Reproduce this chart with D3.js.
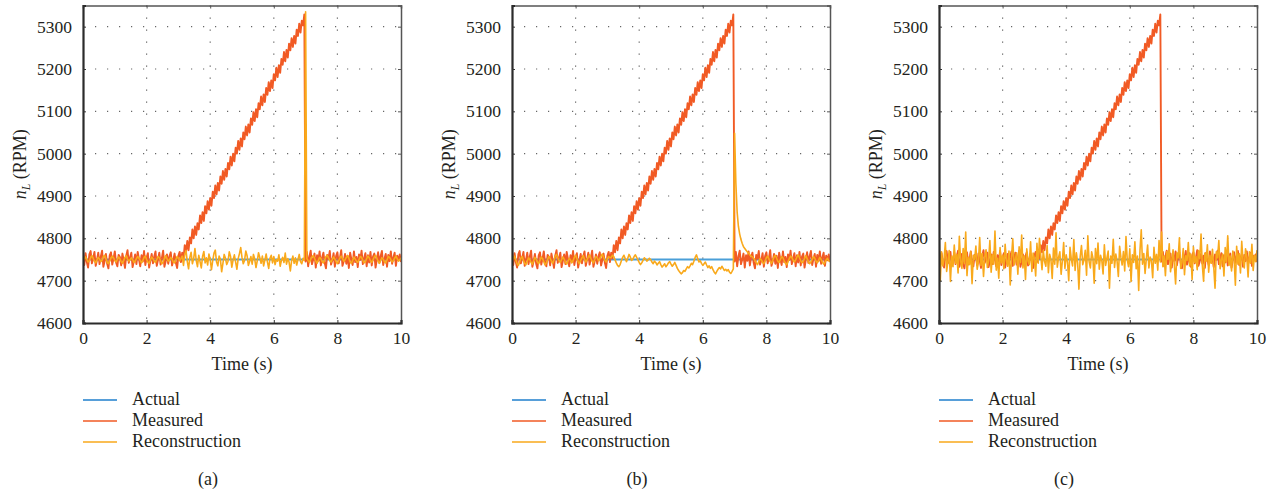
<!DOCTYPE html>
<html>
<head>
<meta charset="utf-8">
<script src="https://cdn.jsdelivr.net/npm/d3@7"></script>
<style>
  body { margin: 0; background: #fff; }
  text { font-family: "Liberation Serif", "Times New Roman", serif; fill: #231f20; }
</style>
</head>
<body>
<script>
// sampling step of the recorded signals (s)
var dt = 0.04;

var xTicks = [0, 2, 4, 6, 8, 10];
var yTicks = [4600, 4700, 4800, 4900, 5000, 5100, 5200, 5300];
var seriesNames = ["Actual", "Measured", "Reconstruction"];
var panelLabels = ["(a)", "(b)", "(c)"];

// actual speed (RPM), constant over the run
var actualTime = [0, 10];
var actual = [4750, 4750];

// measured speed (RPM), same record in all three panels
var measured = [
  4758, 4737, 4765, 4744, 4731, 4762, 4770, 4741, 4753, 4768, 4735, 4749, 4766, 4739, 4757, 4771, 4733, 4746, 4763, 4740,
  4729, 4760, 4767, 4738, 4752, 4769, 4743, 4734, 4761, 4756, 4736, 4764, 4748, 4730, 4759, 4772, 4742, 4755, 4766, 4732,
  4747, 4762, 4739, 4768, 4751, 4734, 4760, 4745, 4770, 4737, 4754, 4765, 4731, 4748, 4763, 4741, 4757, 4769, 4735, 4750,
  4766, 4738, 4753, 4771, 4733, 4746, 4762, 4740, 4758, 4767, 4736, 4749, 4764, 4742, 4730, 4759, 4768, 4744,
  4766, 4752, 4784, 4767, 4794, 4772, 4802, 4788, 4821, 4800, 4828, 4808, 4836, 4821, 4854, 4836, 4862, 4841, 4876, 4859,
  4888, 4868, 4895, 4877, 4910, 4895, 4925, 4904, 4931, 4913, 4946, 4929, 4959, 4938, 4964, 4946, 4978, 4963, 4993, 4972,
  5000, 4982, 5014, 5000, 5030, 5009, 5036, 5017, 5050, 5034, 5064, 5043, 5069, 5050, 5083, 5068, 5098, 5077, 5105, 5086,
  5119, 5105, 5135, 5114, 5140, 5122, 5155, 5139, 5169, 5148, 5173, 5155, 5188, 5173, 5203, 5181, 5209, 5191, 5224, 5210,
  5240, 5218, 5245, 5227, 5260, 5244, 5273, 5252, 5278, 5260, 5293, 5278, 5307, 5286, 5314, 5303, 5329,
  4745, 4768, 4734, 4757, 4771, 4739, 4750, 4764, 4731, 4760, 4747, 4769, 4736, 4755, 4766, 4742, 4729, 4761, 4752, 4770,
  4738, 4748, 4765, 4733, 4758, 4767, 4741, 4754, 4772, 4735, 4746, 4763, 4740, 4759, 4730, 4766, 4751, 4737, 4769, 4744,
  4756, 4732, 4762, 4749, 4771, 4739, 4753, 4765, 4734, 4760, 4743, 4768, 4736, 4757, 4764, 4731, 4750, 4767, 4742, 4758,
  4770, 4737, 4752, 4763, 4733, 4761, 4746, 4769, 4740, 4755, 4766, 4735, 4759, 4748, 4762, 4744
];

// reconstruction, panel (a)
var reconA = [
  4748, 4752, 4756, 4750, 4744, 4747, 4754, 4759, 4753, 4746, 4742, 4749, 4755, 4751, 4745, 4748, 4757, 4760, 4752, 4743,
  4740, 4746, 4753, 4758, 4754, 4747, 4744, 4750, 4756, 4752, 4745, 4741, 4748, 4755, 4759, 4751, 4746, 4749, 4754, 4750,
  4743, 4746, 4752, 4757, 4753, 4748, 4742, 4747, 4755, 4758, 4750, 4744, 4741, 4749, 4756, 4752, 4746, 4743, 4750, 4757,
  4754, 4747, 4740, 4745, 4753, 4759, 4752, 4746, 4749, 4755, 4751, 4744, 4742, 4750, 4757, 4753, 4747, 4752,
  4758, 4736, 4762, 4771, 4745, 4728, 4755, 4767, 4740, 4752, 4776, 4748, 4733, 4760, 4745, 4730, 4757, 4769, 4742, 4754,
  4737, 4763, 4750, 4726, 4748, 4765, 4772, 4744, 4735, 4758, 4751, 4721, 4741, 4762, 4753, 4738, 4746, 4768, 4757, 4732,
  4749, 4761, 4744, 4727, 4752, 4764, 4778, 4755, 4740, 4748, 4770, 4759, 4736, 4745, 4757, 4739, 4762, 4751, 4731, 4747,
  4766, 4754, 4741, 4758, 4735, 4749, 4763, 4744, 4729, 4753, 4760, 4742, 4757, 4738, 4750, 4746, 4761, 4734, 4748, 4755,
  4743, 4765, 4739, 4752, 4744, 4723, 4747, 4758, 4741, 4754, 4737, 4750, 4762, 4745, 4740, 4753, 4748,
  5335,
  4752, 4747, 4743, 4750, 4756, 4759, 4753, 4746, 4741, 4748, 4755, 4752, 4745, 4742, 4749, 4757, 4760, 4754, 4747, 4744,
  4750, 4756, 4751, 4745, 4740, 4747, 4754, 4758, 4752, 4746, 4749, 4755, 4759, 4753, 4744, 4741, 4748, 4756, 4751, 4746,
  4743, 4750, 4757, 4755, 4748, 4742, 4745, 4752, 4758, 4754, 4747, 4743, 4749, 4756, 4760, 4753, 4746, 4741, 4748, 4754,
  4751, 4745, 4742, 4749, 4757, 4755, 4750, 4744, 4747, 4753, 4758, 4752, 4746, 4749, 4754
];

// reconstruction, panel (b)
var reconB = [
  4745, 4752, 4758, 4749, 4740, 4736, 4744, 4753, 4757, 4748, 4741, 4738, 4746, 4754, 4750, 4743, 4739, 4747, 4755, 4751,
  4744, 4740, 4748, 4756, 4752, 4745, 4737, 4742, 4750, 4757, 4753, 4746, 4741, 4749, 4758, 4762, 4754, 4747, 4743, 4750,
  4756, 4751, 4744, 4739, 4746, 4753, 4749, 4742, 4747, 4755, 4760, 4752, 4745, 4740, 4748, 4754, 4759, 4751, 4744, 4749,
  4756, 4761, 4753, 4746, 4742, 4750, 4757, 4754, 4747, 4751, 4758, 4763, 4755, 4748, 4744, 4752, 4757, 4754,
  4755, 4760, 4757, 4749, 4742, 4736, 4733, 4738, 4747, 4755, 4760, 4752, 4745, 4753, 4762, 4756, 4748, 4751, 4757, 4761,
  4755, 4749, 4743, 4738, 4742, 4748, 4754, 4751, 4746, 4749, 4753, 4750, 4744, 4740, 4746, 4743, 4737, 4741, 4745, 4738,
  4732, 4736, 4740, 4733, 4737, 4742, 4745, 4739, 4734, 4738, 4743, 4736, 4729, 4724, 4720, 4716, 4719, 4724, 4722, 4728,
  4733, 4730, 4735, 4741, 4738, 4746, 4755, 4761, 4752, 4744, 4747, 4741, 4736, 4740, 4744, 4737, 4731, 4735, 4729, 4733,
  4726, 4720, 4716, 4722, 4727, 4731, 4728, 4734, 4729, 4724, 4727, 4723, 4726, 4720, 4717, 4722, 4728,
  5048, 4930, 4862, 4828, 4810, 4797, 4788, 4780, 4776, 4772, 4768, 4765, 4761, 4758, 4756, 4753,
  4748, 4742, 4738, 4745, 4752, 4749, 4743, 4740, 4747, 4754, 4758, 4751, 4745, 4741, 4748, 4756, 4760, 4753, 4746, 4743,
  4750, 4757, 4754, 4747, 4741, 4738, 4745, 4752, 4758, 4755, 4748, 4744, 4749, 4756, 4761, 4754, 4747, 4742, 4746, 4753,
  4759, 4752, 4745, 4740, 4744, 4751, 4757, 4753, 4746, 4742, 4748, 4755, 4750, 4744, 4739, 4743, 4749, 4753, 4747, 4745
];

// reconstruction, panel (c)
var reconC = [
  4810, 4700, 4768, 4735, 4752, 4790, 4722, 4745, 4771, 4698, 4758, 4733, 4784, 4741, 4762, 4718, 4805, 4747, 4729, 4776,
  4740, 4815, 4712, 4755, 4738, 4769, 4693, 4760, 4750, 4782, 4727, 4744, 4802, 4736, 4764, 4710, 4757, 4773, 4731, 4748,
  4795, 4720, 4761, 4739, 4817, 4725, 4753, 4706, 4778, 4742, 4760, 4728, 4786, 4747, 4734, 4770, 4690, 4756, 4799, 4737,
  4749, 4766, 4715, 4780, 4743, 4808, 4730, 4758, 4703, 4775, 4746, 4738, 4792, 4722, 4765, 4752, 4711, 4788, 4741, 4800,
  4759, 4726, 4771, 4745, 4734, 4783, 4719, 4762, 4750, 4705, 4777, 4739, 4813, 4732, 4755, 4768, 4715, 4747, 4790, 4729,
  4761, 4744, 4700, 4779, 4751, 4735, 4797, 4724, 4766, 4742, 4680, 4757, 4783, 4738, 4749, 4772, 4713, 4806, 4745, 4730,
  4768, 4754, 4694, 4776, 4740, 4789, 4727, 4760, 4748, 4716, 4785, 4736, 4753, 4770, 4682, 4758, 4741, 4798, 4731, 4763,
  4746, 4710, 4781, 4755, 4737, 4769, 4723, 4804, 4749, 4733, 4775, 4698, 4761, 4743, 4792, 4728, 4758, 4677, 4771, 4820,
  4739, 4764, 4717, 4752, 4784, 4730, 4756, 4747, 4707, 4779, 4741, 4762, 4725, 4795, 4744, 4815, 4733, 4758, 4712, 4769,
  4750, 4787, 4721, 4745, 4773, 4738, 4692, 4766, 4754, 4801, 4729, 4742, 4776, 4714, 4759, 4748, 4790, 4735, 4763, 4703,
  4780, 4743, 4757, 4726, 4771, 4752, 4810, 4737, 4699, 4765, 4746, 4785, 4720, 4760, 4741, 4774, 4732, 4682, 4768, 4754,
  4795, 4728, 4749, 4763, 4711, 4778, 4744, 4806, 4736, 4758, 4723, 4770, 4752, 4689, 4781, 4739, 4764, 4718, 4793, 4747,
  4730, 4775, 4755, 4709, 4768, 4741, 4786, 4724, 4760, 4745, 4772
];

var colors = ["#1f7fcc", "#f15a24", "#f9a91b"];

var w = 1275,
    h = 493;

var svg = d3.select("body").append("svg")
    .attr("width", w)
    .attr("height", h);

var panels = [
  {left: 83, recon: reconA},
  {left: 512, recon: reconB},
  {left: 939, recon: reconC}
];
var pw = 318,
    plotTop = 5.5,
    plotBottom = 323;

panels.forEach(function(p, k) {
  var g = svg.append("g");

  var x = d3.scaleLinear().domain([0, 10]).range([p.left, p.left + pw]);
  var y = d3.scaleLinear().domain([4600, 5350]).range([plotBottom, plotTop]);

  // dotted grid
  g.append("g").selectAll("line")
      .data(xTicks.slice(1, -1))
    .enter().append("line")
      .attr("x1", function(d) { return x(d); })
      .attr("x2", function(d) { return x(d); })
      .attr("y1", plotTop)
      .attr("y2", plotBottom)
      .attr("stroke", "#666")
      .attr("stroke-width", 1.2)
      .attr("stroke-dasharray", "1.2,10.8");

  g.append("g").selectAll("line")
      .data(yTicks.slice(1))
    .enter().append("line")
      .attr("x1", p.left)
      .attr("x2", p.left + pw)
      .attr("y1", function(d) { return y(d); })
      .attr("y2", function(d) { return y(d); })
      .attr("stroke", "#666")
      .attr("stroke-width", 1.2)
      .attr("stroke-dasharray", "1.2,10.8");

  // signals
  var clipId = "clip" + k;
  g.append("clipPath").attr("id", clipId)
    .append("rect")
      .attr("x", p.left).attr("y", plotTop)
      .attr("width", pw).attr("height", plotBottom - plotTop);

  var line = d3.line()
      .x(function(d, i) { return x(i * dt); })
      .y(function(d) { return y(d); });

  var actualLine = d3.line()
      .x(function(d, i) { return x(actualTime[i]); })
      .y(function(d) { return y(d); });

  var plot = g.append("g").attr("clip-path", "url(#" + clipId + ")");

  plot.append("path")
      .attr("d", actualLine(actual))
      .attr("fill", "none")
      .attr("stroke", "#4a9fd8")
      .attr("stroke-width", 2);

  plot.append("path")
      .attr("d", line(measured))
      .attr("fill", "none")
      .attr("stroke", colors[1])
      .attr("stroke-width", 1.9)
      .attr("stroke-linejoin", "round");

  plot.append("path")
      .attr("d", line(p.recon))
      .attr("fill", "none")
      .attr("stroke", colors[2])
      .attr("stroke-width", 1.6)
      .attr("stroke-linejoin", "round");

  // box: top and right sides with inward ticks
  g.append("g")
      .attr("transform", "translate(0," + plotTop + ")")
      .call(d3.axisTop(x).tickValues(xTicks).tickSize(-3).tickFormat(""))
      .call(function(s) {
        s.select(".domain").attr("stroke", "#555").attr("stroke-width", 1.5);
        s.selectAll(".tick line").attr("stroke", "#555");
      });

  g.append("g")
      .attr("transform", "translate(" + (p.left + pw) + ",0)")
      .call(d3.axisRight(y).tickValues(yTicks).tickSize(-3).tickFormat(""))
      .call(function(s) {
        s.select(".domain").attr("stroke", "#555").attr("stroke-width", 1.5);
        s.selectAll(".tick line").attr("stroke", "#555");
      });

  // left and bottom axes
  g.append("g")
      .attr("transform", "translate(" + p.left + ",0)")
      .call(d3.axisLeft(y).tickValues(yTicks).tickSize(-3).tickPadding(11).tickFormat(d3.format("d")))
      .call(function(s) {
        s.select(".domain").attr("stroke", "#2b2b2b").attr("stroke-width", 2.2);
        s.selectAll(".tick line").attr("stroke", "#333");
        s.selectAll("text").attr("font-size", 17.5).attr("fill", "#231f20");
      });

  g.append("g")
      .attr("transform", "translate(0," + plotBottom + ")")
      .call(d3.axisBottom(x).tickValues(xTicks).tickSize(-3).tickPadding(9).tickFormat(d3.format("d")))
      .call(function(s) {
        s.select(".domain").attr("stroke", "#2b2b2b").attr("stroke-width", 2.2);
        s.selectAll(".tick line").attr("stroke", "#333");
        s.selectAll("text").attr("font-size", 17.5).attr("fill", "#231f20");
      });

  // axis titles
  g.append("text")
      .attr("x", p.left + pw / 2)
      .attr("y", 370)
      .attr("text-anchor", "middle")
      .attr("font-size", 18)
      .text("Time (s)");

  var yl = g.append("text")
      .attr("transform", "translate(" + (p.left - 57) + "," + ((plotTop + plotBottom) / 2) + ") rotate(-90)")
      .attr("text-anchor", "middle")
      .attr("font-size", 18);
  yl.append("tspan").attr("font-style", "italic").text("n");
  yl.append("tspan").attr("font-style", "italic").attr("font-size", 12).attr("dy", 4).text("L");
  yl.append("tspan").attr("dy", -4).text(" (RPM)");

  // legend
  var lg = g.append("g").selectAll("g")
      .data(seriesNames)
    .enter().append("g")
      .attr("transform", function(d, i) { return "translate(" + p.left + "," + (400 + i * 21) + ")"; });

  lg.append("line")
      .attr("x1", 0).attr("x2", 34)
      .attr("stroke", function(d, i) { return colors[i]; })
      .attr("stroke-width", 1.5);

  lg.append("text")
      .attr("x", 49)
      .attr("y", 5)
      .attr("font-size", 18)
      .text(function(d) { return d; });

  // panel caption
  g.append("text")
      .attr("x", p.left + 125)
      .attr("y", 485)
      .attr("text-anchor", "middle")
      .attr("font-size", 18)
      .text(panelLabels[k]);
});
</script>
</body>
</html>
